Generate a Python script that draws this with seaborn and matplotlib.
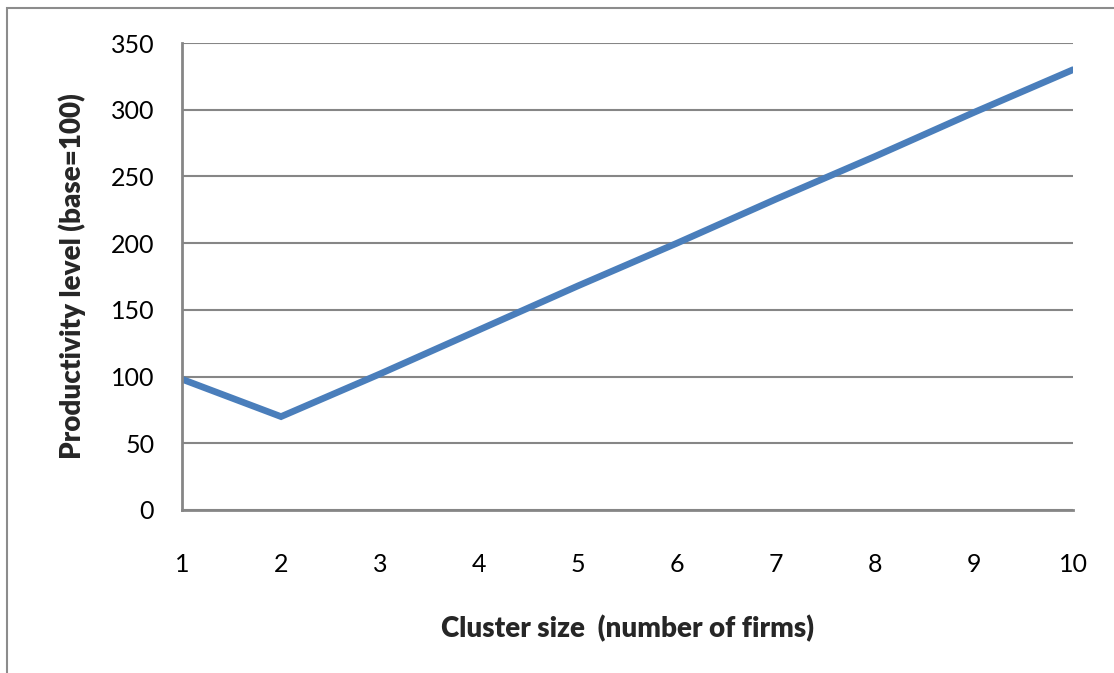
import matplotlib
matplotlib.use("Agg")
import matplotlib.pyplot as plt
from matplotlib.patches import Rectangle
import seaborn as sns
import pandas as pd

cluster_size = [1, 2, 3, 4, 5, 6, 7, 8, 9, 10]
productivity = [98, 70, 102, 135, 168, 200, 233, 265, 298, 330]
y_ticks = [0, 50, 100, 150, 200, 250, 300, 350]

sns.set_style("white")
plt.rcParams["font.family"] = ["Lato", "DejaVu Sans"]

GRID = "#868686"
LINE = "#4A7EBB"

fig = plt.figure(figsize=(11.14, 6.73), dpi=100)
ax = fig.add_axes([0.1634, 0.2422, 0.7998, 0.6939])

# outer chart-area frame
fig.patches.append(Rectangle((7 / 1114, -0.05), 1.2, 1 - 8 / 673 + 0.05,
                             transform=fig.transFigure, fill=False,
                             edgecolor="#8c8c8c", linewidth=1.5))

df = pd.DataFrame({"size": cluster_size, "prod": productivity})
sns.lineplot(data=df, x="size", y="prod", ax=ax, color=LINE,
             linewidth=4.8, solid_capstyle="round", solid_joinstyle="miter")

ax.set_xlim(1, 10)
ax.set_ylim(0, 350)
ax.set_xticks(cluster_size)
ax.set_yticks(y_ticks)
ax.grid(axis="y", color=GRID, linewidth=1.5)
ax.set_axisbelow(True)

for s in ["top", "right"]:
    ax.spines[s].set_visible(False)
for s in ["left", "bottom"]:
    ax.spines[s].set_color(GRID)
    ax.spines[s].set_linewidth(2)

ax.tick_params(axis="both", which="major", direction="out", length=7,
               width=1.5, color=GRID, labelsize=18, labelcolor="black")
ax.tick_params(axis="y", pad=13)
ax.tick_params(axis="x", pad=24)

ax.set_xlabel("Cluster size  (number of firms)", fontsize=20,
              fontweight="heavy", labelpad=28)
ax.set_ylabel("Productivity level (base=100)", fontsize=20,
              fontweight="heavy", labelpad=18)

fig.savefig("out.png", dpi=100)
